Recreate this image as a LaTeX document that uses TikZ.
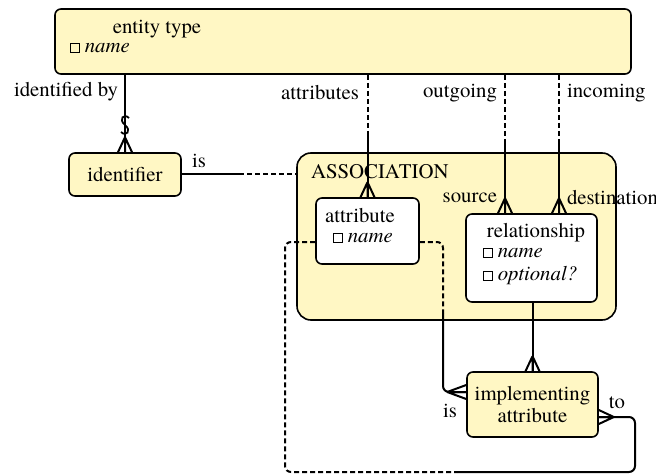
\documentclass[tikz,border=0pt]{standalone}
\usepackage{fontspec}
\setmainfont{texgyretermes}[Extension=.otf, UprightFont=*-regular, ItalicFont=*-italic, BoldFont=*-bold]
\usetikzlibrary{calc}
\definecolor{paleyellow}{RGB}{255,247,196}
\newcommand\sq{\raisebox{0.1ex}{\fboxsep=0pt\fboxrule=0.4pt\fbox{\rule{0pt}{0.85ex}\hspace{0.85ex}}}}
% crow's foot: anchor on the box, vector to the tip, half spread
\newcommand\crowfoot[3]{%
	\draw ($(#1)+(#2)$) -- ($(#1)+(#3)$)
		($(#1)+(#2)$) -- (#1)
		($(#1)+(#2)$) -- ($(#1)-(#3)$);}
\begin{document}
\begin{tikzpicture}[x=0.5pt, y=-0.5pt, line width=1pt,
	every node/.style={font=\fontsize{10.4pt}{11pt}\selectfont},
	box/.style={draw, line width=0.8pt, rounded corners=3pt, fill=paleyellow, inner sep=0pt},
	lbl/.style={inner sep=0pt},
	dashed/.style={dash pattern=on 2.5pt off 1.5pt}]
\useasboundingbox (0,0) rectangle (656,475);
% boxes
\node[box, minimum width=288pt, minimum height=32.5pt] (ent) at (343,41.5) {};
\node[box, minimum width=56pt, minimum height=21.5pt] (idf) at (125,174.5) {identifier};
\node[box, rounded corners=7pt, minimum width=159.5pt, minimum height=83.5pt] (assoc) at (456.5,236.5) {};
\node[box, fill=white, minimum width=51.5pt, minimum height=33pt] (attr) at (367.5,231) {};
\node[box, fill=white, minimum width=65.5pt, minimum height=44pt] (rel) at (531.5,258) {};
\node[box, align=center, minimum width=65.5pt, minimum height=32.5pt] (impl) at (532.5,404.5) {implementing\\attribute};
% texts in boxes
\node[lbl] (enttitle) at (157,29) {entity type};
\node[lbl, anchor=west] (entname) at (69,48) {\sq\ \textit{name}};
\node[lbl, anchor=west] (assoctitle) at (310,172) {ASSOCIATION};
\node[lbl] (attrtitle) at (360,216) {attribute};
\node[lbl, anchor=west] (attrname) at (332,238) {\sq\ \textit{name}};
\node[lbl] (reltitle) at (536,233) {relationship};
\node[lbl, anchor=west] (relname) at (482,253) {\sq\ \textit{name}};
\node[lbl, anchor=west] (relopt) at (482,276) {\sq\ \textit{optional?}};
% identified by
\draw (ent.south -| idf.north) -- (idf.north);
\draw[line width=0.9pt] (129,118) .. controls (124,113) and (118,119) .. (125,125)
	.. controls (132,131) and (126,137) .. (121,132);
\crowfoot{idf.north}{0,-15}{7,0}
\node[lbl, anchor=east] (lblidby) at (119,92) {identified by};
% is (identifier)
\coordinate (ismid) at (239,0 |- idf.east);
\draw (idf.east) -- (ismid);
\draw[dashed] (ismid) -- (ismid -| assoc.west);
\node[lbl] (lblis) at (199,161) {is};
% attributes
\coordinate (amid) at (367.5,136);
\draw[dashed] (attr.north |- ent.south) -- (amid);
\draw (amid) -- (attr.north);
\crowfoot{attr.north}{0,-15}{7,0}
\node[lbl, anchor=east] (lblattrs) at (360,93) {attributes};
% outgoing / source
\coordinate (src) at (505,0 |- rel.north);
\coordinate (srcmid) at (505,144);
\draw[dashed] (src |- ent.south) -- (srcmid);
\draw (srcmid) -- (src);
\crowfoot{src}{0,-15}{7,0}
\node[lbl, anchor=east] (lblout) at (498,93) {outgoing};
\node[lbl, anchor=east] (lblsrc) at (498,198) {source};
% incoming / destination
\coordinate (dst) at (559,0 |- rel.north);
\coordinate (dstmid) at (559,144);
\draw[dashed] (dst |- ent.south) -- (dstmid);
\draw (dstmid) -- (dst);
\crowfoot{dst}{0,-15}{7,0}
\node[lbl, anchor=west] (lblin) at (566,93) {incoming};
\node[lbl, anchor=west] (lbldst) at (566,198) {destination};
% relationship - implementing attribute
\draw (impl.north |- rel.south) -- (impl.north);
\crowfoot{impl.north}{0,-15}{7,0}
% is (attribute - implementing attribute)
\coordinate (ar) at (attr.east |- 0,242);
\coordinate (iw) at (impl.west |- 0,392);
\draw[dashed, rounded corners=3pt] (ar) -| (443,313);
\draw[rounded corners=3pt] (443,313) |- (iw);
\crowfoot{iw}{-19,0}{0,7}
\node[lbl] (lblis2) at (450,411) {is};
% to (attribute - implementing attribute)
\coordinate (al) at (attr.west |- 0,242);
\coordinate (ie) at (impl.east |- 0,417);
\draw[dashed, rounded corners=3pt] (al) -| (285,472) -- (457,472);
\draw[rounded corners=3pt] (457,472) -| (635,417) -- (ie);
\crowfoot{ie}{15,0}{0,7}
\node[lbl] (lblto) at (617,403) {to};
\end{tikzpicture}
\end{document}
